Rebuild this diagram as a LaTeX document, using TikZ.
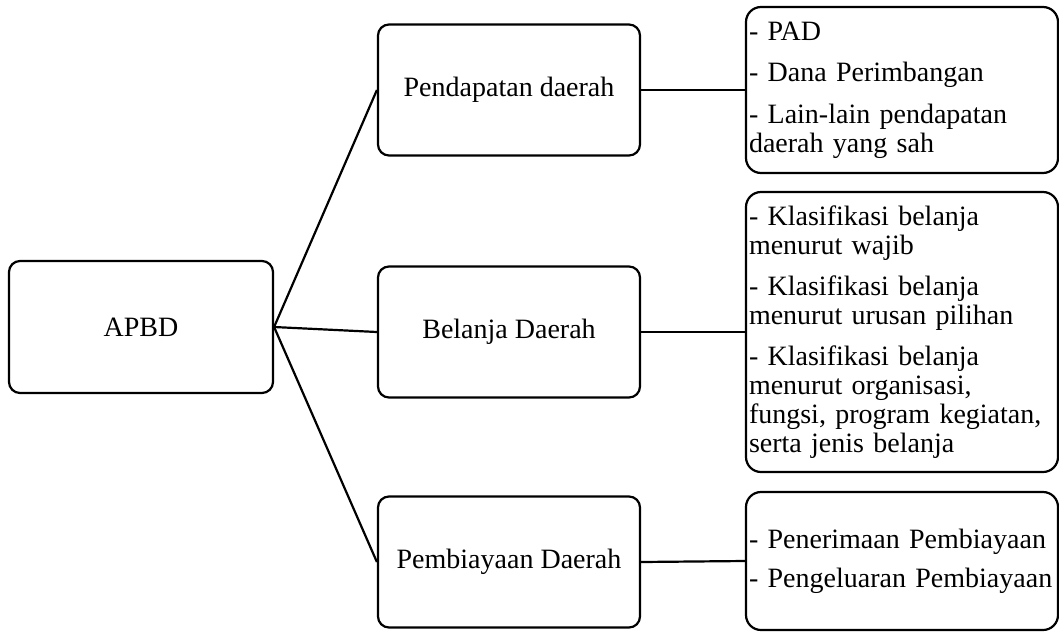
\documentclass[tikz,border=0pt]{standalone}
\usepackage{fontspec}
\setmainfont{Liberation Serif}
\usetikzlibrary{positioning}
\tikzset{
  box/.style={draw, line width=2.2pt, rounded corners=11pt, minimum width=262pt, minimum height=131pt, align=center},
  list/.style={draw, line width=2.2pt, rounded corners=15pt, text width=306pt, inner xsep=3pt, align=left},
  every node/.style={font=\fontsize{28}{29}\selectfont}
}
\begin{document}
\begin{tikzpicture}[x=1pt,y=-1pt]
\useasboundingbox (0,0) rectangle (1059,632);
\node (apbd) at (141,327) [box, minimum width=264pt, minimum height=132pt] {APBD};
\node (pend) at (509,90) [box] {Pendapatan daerah};
\node (bel) at (509,332) [box] {Belanja Daerah};
\node (pemb) at (509,562) [box] {Pembiayaan Daerah};
\node (lpend) at (902,90) [list, minimum height=166pt] {- PAD\\[12pt]- Dana Perimbangan\\[13pt]- Lain-lain pendapatan\\daerah yang sah};
\node (lbel) at (902,332) [list, minimum height=280pt] {- Klasifikasi belanja\\menurut wajib\\[12pt]- Klasifikasi belanja\\menurut urusan pilihan\\[12pt]- Klasifikasi belanja\\menurut organisasi,\\fungsi, program kegiatan,\\serta jenis belanja};
\node (lpemb) at (902,561) [list, minimum height=138pt] {- Penerimaan Pembiayaan\\[10pt]- Pengeluaran Pembiayaan};
\draw [line width=2.2pt] (apbd.east) -- (pend.west);
\draw [line width=2.2pt] (apbd.east) -- (bel.west);
\draw [line width=2.2pt] (apbd.east) -- (pemb.west);
\draw [line width=2.2pt] (pend.east) -- (lpend.west);
\draw [line width=2.2pt] (bel.east) -- (lbel.west);
\draw [line width=2.2pt] (pemb.east) -- (lpemb.west);
\end{tikzpicture}
\end{document}
